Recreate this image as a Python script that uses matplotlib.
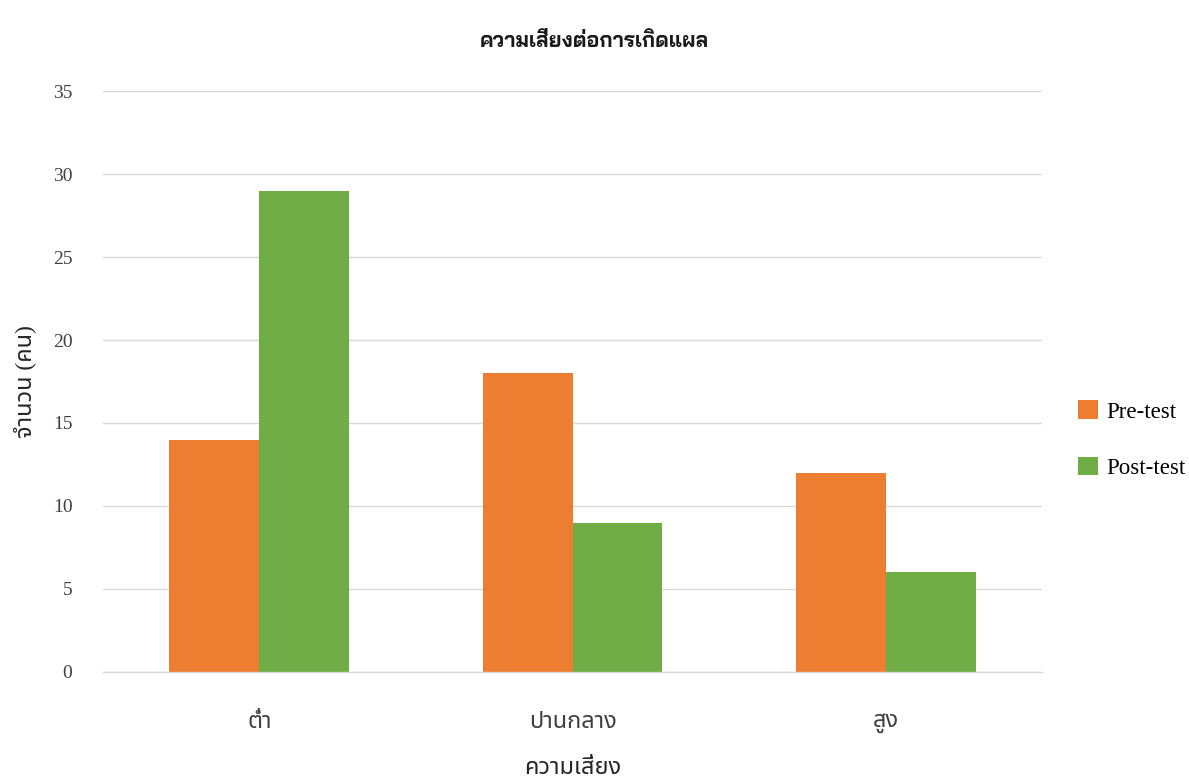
import matplotlib
matplotlib.use("Agg")
import matplotlib.pyplot as plt
from matplotlib import font_manager
import numpy as np

# กลุ่มความเสี่ยงและจำนวนคนในแต่ละกลุ่ม
categories = ["ต่ำ", "ปานกลาง", "สูง"]
pre_test = [14, 18, 12]
post_test = [29, 9, 6]
series_names = ["Pre-test", "Post-test"]
y_ticks = [0, 5, 10, 15, 20, 25, 30, 35]

thai = ["Liberation Serif", "Noto Sans Thai"]

# หาฟอนต์ไทยแบบไม่มีหัวที่มีตัวหนาสำหรับหัวเรื่อง
bold_family = "Noto Sans Thai"
for fam in ["Noto Sans Thai", "Noto Sans Thai UI", "Bai Jamjuree", "Athiti"]:
    weights = [f.weight for f in font_manager.fontManager.ttflist if f.name == fam]
    if any((w if isinstance(w, int) else 400 if w == "normal" else 700) >= 600 for w in weights):
        bold_family = fam
        break

orange = "#ED7D31"
green = "#70AD47"

fig = plt.figure(figsize=(11.89, 7.82), dpi=100)
ax = fig.add_axes([0.0866, 0.1407, 0.7898, 0.7429])

x = np.arange(len(categories))
w = 0.2875
ax.bar(x - w / 2, pre_test, w, color=orange, label=series_names[0], zorder=3)
ax.bar(x + w / 2, post_test, w, color=green, label=series_names[1], zorder=3)

ax.set_xlim(-0.5, len(categories) - 0.5)
ax.set_ylim(0, 35)
ax.set_yticks(y_ticks)
ax.set_yticklabels([str(t) for t in y_ticks], family="Liberation Serif", fontsize=14)
ax.set_xticks(x)
ax.set_xticklabels(categories, family=thai, fontsize=17)
ax.tick_params(axis="both", length=0, colors="#404040")
ax.tick_params(axis="y", pad=22)
ax.tick_params(axis="x", pad=29)
ax.grid(axis="y", color="#d9d9d9", linewidth=1, zorder=0)
ax.axhline(0, color="#d9d9d9", linewidth=1, zorder=4, clip_on=False)
for s in ax.spines.values():
    s.set_visible(False)

# หัวเรื่องอยู่กึ่งกลางของทั้งรูป ไม่ใช่กึ่งกลางแกน
ax.set_title("ความเสี่ยงต่อการเกิดแผล", family=["Liberation Serif", bold_family],
             fontsize=15, fontweight="bold", color="#1a1a1a", pad=32, x=0.523)
ax.set_ylabel("จำนวน (คน)", family=thai, fontsize=17, color="#262626", labelpad=12)
ax.set_xlabel("ความเสี่ยง", family=thai, fontsize=17, color="#262626", labelpad=18)

ax.legend(loc="center left", bbox_to_anchor=(1.016, 0.40), frameon=False,
          prop={"family": "Liberation Serif", "size": 16.5},
          handlelength=0.87, handleheight=0.87, labelspacing=1.48, handletextpad=0.4)

fig.savefig("out.png")
